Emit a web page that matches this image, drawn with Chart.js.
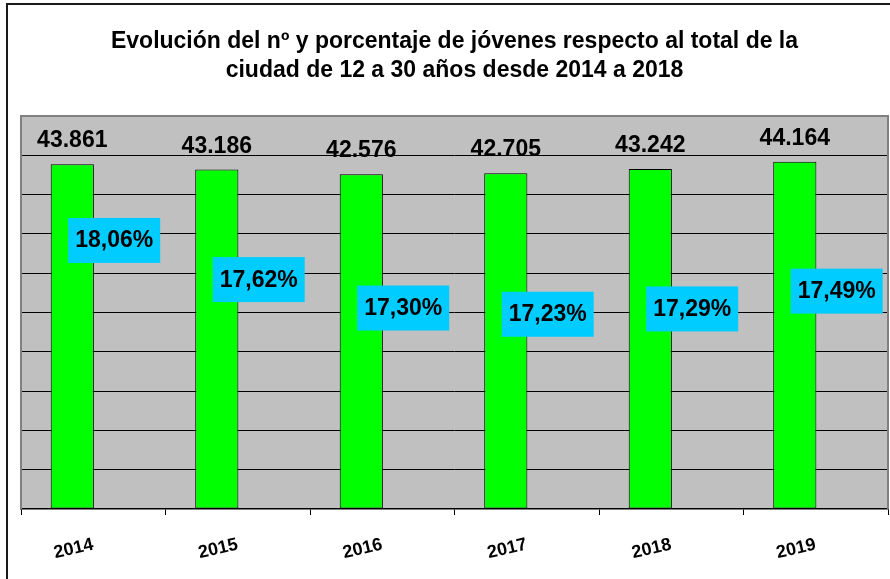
<!DOCTYPE html>
<html>
<head>
<meta charset="utf-8">
<script src="https://cdn.jsdelivr.net/npm/chart.js@4.4.1/dist/chart.umd.min.js"></script>
<style>
  html, body { margin: 0; padding: 0; background: #fff; }
  #wrap { width: 890px; height: 579px; position: relative; }
</style>
</head>
<body>
<div id="wrap"><canvas id="chart"></canvas></div>
<script>
const years = ["2014", "2015", "2016", "2017", "2018", "2019"];
const jovenes = [43861, 43186, 42576, 42705, 43242, 44164];
const porcentaje = [18.06, 17.62, 17.30, 17.23, 17.29, 17.49];
const titleLines = [
  "Evolución del nº y porcentaje de jóvenes respecto al total de la",
  "ciudad de 12 a 30 años desde 2014 a 2018"
];

const FONT = "'Liberation Sans', Arial, sans-serif";

const fmtNum = (v) => String(v).replace(/\B(?=(\d{3})+(?!\d))/g, ".");
const fmtPct = (v) => v.toFixed(2).replace(".", ",") + "%";

// background, plot area frame and the data labels
const frame = {
  id: "frame",
  beforeDraw(chart) {
    const { ctx, chartArea: a } = chart;
    ctx.save();
    ctx.fillStyle = "#ffffff";
    ctx.fillRect(0, 0, chart.width, chart.height);
    ctx.fillStyle = "#c0c0c0";
    ctx.fillRect(a.left, a.top, a.right - a.left, a.bottom - a.top);
    ctx.strokeStyle = "#1a1a1a";
    ctx.lineWidth = 2;
    ctx.beginPath();
    ctx.moveTo(7, chart.height);
    ctx.lineTo(7, 4);
    ctx.lineTo(chart.width, 4);
    ctx.stroke();
    ctx.restore();
  },
  beforeDatasetsDraw(chart) {
    const { ctx, chartArea: a } = chart;
    ctx.save();
    ctx.strokeStyle = "#808080";
    ctx.lineWidth = 2;
    ctx.beginPath();
    ctx.moveTo(a.left, a.bottom);
    ctx.lineTo(a.left, a.top);
    ctx.lineTo(a.right, a.top);
    ctx.lineTo(a.right, a.bottom);
    ctx.stroke();
    ctx.restore();
  },
  afterDatasetsDraw(chart) {
    const ctx = chart.ctx;
    ctx.save();
    ctx.font = "bold 23px " + FONT;
    ctx.fillStyle = "#000";
    ctx.textAlign = "center";
    ctx.textBaseline = "alphabetic";
    chart.getDatasetMeta(0).data.forEach((bar, i) => {
      ctx.fillText(fmtNum(jovenes[i]), bar.x, bar.y - 17);
    });
    chart.getDatasetMeta(1).data.forEach((bar, i) => {
      const txt = fmtPct(porcentaje[i]);
      const w = ctx.measureText(txt).width + 14;
      const h = 45;
      ctx.fillStyle = "#00ccff";
      ctx.fillRect(bar.x - w / 2, bar.y - h / 2, w, h);
      ctx.fillStyle = "#000";
      ctx.fillText(txt, bar.x, bar.y + 7);
    });
    ctx.restore();
  }
};

const ctx = document.getElementById("chart").getContext("2d");
new Chart(ctx, {
  type: "bar",
  data: {
    labels: years,
    datasets: [
      {
        label: "Jóvenes",
        data: jovenes,
        backgroundColor: "#00ff00",
        borderColor: "#000",
        borderWidth: 1,
        borderSkipped: false,
        yAxisID: "y",
        categoryPercentage: 0.58,
        barPercentage: 1.03
      },
      {
        label: "Porcentaje",
        data: porcentaje,
        backgroundColor: "rgba(0,0,0,0)",
        borderWidth: 0,
        yAxisID: "y2",
        categoryPercentage: 0.58,
        barPercentage: 1.03
      }
    ]
  },
  options: {
    responsive: true,
    maintainAspectRatio: false,
    animation: false,
    layout: { padding: { left: 21, right: 2, top: 0, bottom: 0 } },
    plugins: {
      legend: { display: false },
      tooltip: { enabled: false },
      title: {
        display: true,
        text: titleLines,
        color: "#000",
        font: { family: FONT, size: 23, weight: "bold", lineHeight: 1.26 },
        padding: { top: 27, bottom: 31 }
      }
    },
    scales: {
      x: {
        offset: true,
        border: { display: true, color: "#000", width: 1.5 },
        grid: { offset: true, drawOnChartArea: false, color: "#000", tickLength: 6 },
        ticks: {
          color: "#000",
          font: { family: FONT, size: 18, weight: "bold" },
          minRotation: 13,
          maxRotation: 13,
          padding: 19
        },
        afterFit(scale) { scale.height = 70; }
      },
      y: {
        min: 0,
        max: 50000,
        ticks: { display: false, stepSize: 5000 },
        border: { display: false },
        grid: {
          drawTicks: false,
          color: (c) => (c.tick.value === 0 || c.tick.value === 50000) ? "rgba(0,0,0,0)" : "#000",
          lineWidth: 1
        },
        afterFit(scale) { scale.width = 0; }
      },
      y2: {
        display: false,
        min: 15.04,
        max: 19.46
      }
    }
  },
  plugins: [frame]
});
</script>
</body>
</html>
